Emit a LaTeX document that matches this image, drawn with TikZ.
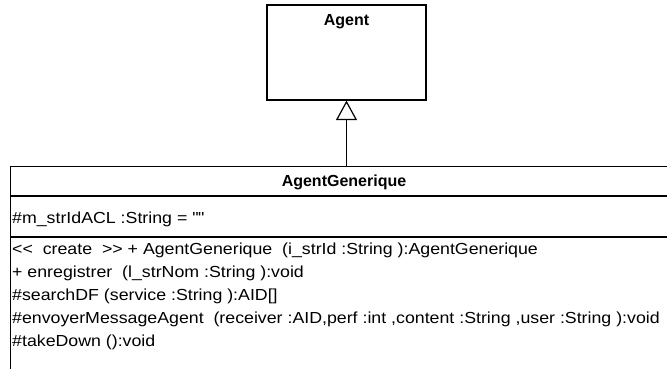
\documentclass[tikz,border=0pt]{standalone}
\usepackage{fontspec}
\setmainfont{Liberation Sans}
\newfontfamily\memberfont[FakeStretch=1.11]{Liberation Sans}
\usetikzlibrary{arrows.meta,positioning}
\tikzset{%
	classbox/.style={rectangle, draw=black, line width=1.2pt, inner sep=0pt},
	classname/.style={anchor=base, font=\fontsize{16}{18}\selectfont\bfseries, inner sep=0pt},
	member/.style={anchor=base west, font=\memberfont\fontsize{16}{18}\selectfont, inner sep=0pt},
	inherit/.style={-{Triangle[open, length=19.5pt, width=21pt]}, line width=1.2pt}
}
\begin{document}
\begin{tikzpicture}[x=1pt,y=-1pt]
\useasboundingbox (0,0) rectangle (667,369);
\node (agent) [classbox, minimum width=159pt, minimum height=95pt] at (346.5,52.5) {};
\node (agentname) [classname] at (346.5,25.7) {Agent};
\node (generique) [classbox, minimum width=670pt, minimum height=220pt, anchor=north west] at (10,165.7) {};
\node (generiquename) [classname] at (344,186.7) {AgentGenerique};
\coordinate (sep1) at (10,196);
\coordinate (sep2) at (10,237);
\draw[line width=1.2pt] (sep1) -- (sep1 -| generique.east);
\draw[line width=1.2pt] (sep2) -- (sep2 -| generique.east);
\node (attr) [member] at (12,223) {\#m\_strIdACL :String = \textquotedbl\textquotedbl};
\node (op1) [member] at (12,254) {<{}<\ \ create\ \ >{}> + AgentGenerique\ \ (i\_strId :String ):AgentGenerique};
\node (op2) [member] at (12,277) {+ enregistrer\ \ (l\_strNom :String ):void};
\node (op3) [member] at (12,300.5) {\#searchDF (service :String ):AID[]};
\node (op4) [member] at (12,323.5) {\#envoyerMessageAgent\ \ (receiver :AID,perf :int ,content :String ,user :String ):void};
\node (op5) [member] at (12,346.5) {\#takeDown ():void};

\draw[inherit] (generique.north -| agent.south) -- (agent.south);
\end{tikzpicture}
\end{document}
